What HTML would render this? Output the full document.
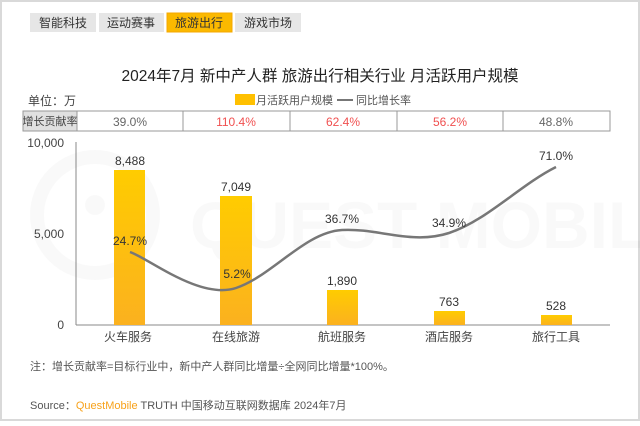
<!DOCTYPE html>
<html><head><meta charset="utf-8"><style>
body{margin:0;width:640px;height:421px;background:#fff;overflow:hidden;font-family:"Liberation Sans","Noto Sans CJK SC",sans-serif}
</style></head><body>
<svg width="640" height="421" xmlns="http://www.w3.org/2000/svg" font-family="Liberation Sans, Noto Sans CJK SC, sans-serif">
<defs><linearGradient id="g" x1="0" y1="0" x2="0" y2="1"><stop offset="0" stop-color="#ffcc00"/><stop offset="1" stop-color="#fbb11f"/></linearGradient></defs>
<rect x="1" y="1" width="638" height="419" fill="#fff" stroke="#d9d9d9" stroke-width="2"/>
<g opacity="0.025" fill="none" stroke="#000" stroke-width="14"><circle cx="95" cy="215" r="58"/></g>
<circle cx="95" cy="205" r="10" fill="#000" opacity="0.025"/>
<text x="190" y="248" font-size="66" fill="#000" opacity="0.02" font-weight="bold">QUEST MOBILE</text>
<g font-size="12" fill="#333" text-anchor="middle">
<rect x="30" y="13" width="66" height="19" fill="#e6e6e6"/><text x="63" y="27">智能科技</text>
<rect x="99" y="13" width="65" height="19" fill="#e6e6e6"/><text x="131" y="27">运动赛事</text>
<rect x="167" y="13" width="65" height="19" fill="#fbb900" stroke="#f5a800"/><text x="199" y="27">旅游出行</text>
<rect x="235" y="13" width="66" height="19" fill="#e6e6e6"/><text x="268" y="27">游戏市场</text>
</g>
<text x="320" y="81" font-size="15.5" fill="#222" text-anchor="middle">2024年7月 新中产人群 旅游出行相关行业 月活跃用户规模</text>
<text x="28" y="105" font-size="12" fill="#444">单位：万</text>
<rect x="235" y="94" width="20" height="11" fill="#ffc000"/>
<text x="256" y="104" font-size="11" fill="#555">月活跃用户规模</text>
<line x1="337" y1="100" x2="353" y2="100" stroke="#777" stroke-width="2"/>
<text x="356" y="104" font-size="11" fill="#555">同比增长率</text>
<rect x="23" y="111" width="54" height="20" fill="#e0e0e0" stroke="#999"/>
<rect x="77" y="111" width="533" height="20" fill="#fff" stroke="#999"/>
<g stroke="#999"><line x1="183" y1="111" x2="183" y2="131"/><line x1="290" y1="111" x2="290" y2="131"/><line x1="397" y1="111" x2="397" y2="131"/><line x1="503" y1="111" x2="503" y2="131"/></g>
<text x="50" y="125" font-size="11" fill="#444" text-anchor="middle">增长贡献率</text>
<g font-size="12" text-anchor="middle">
<text x="130" y="126" fill="#666">39.0%</text>
<text x="236" y="126" fill="#f05050">110.4%</text>
<text x="343" y="126" fill="#f05050">62.4%</text>
<text x="450" y="126" fill="#f05050">56.2%</text>
<text x="556" y="126" fill="#666">48.8%</text>
</g>
<line x1="76" y1="142" x2="76" y2="325" stroke="#888"/>
<line x1="76" y1="325" x2="610" y2="325" stroke="#888"/>
<g font-size="12" fill="#444" text-anchor="end">
<text x="64" y="147">10,000</text><text x="64" y="238">5,000</text><text x="64" y="329">0</text>
</g>
<g fill="url(#g)">
<rect x="114" y="170" width="31" height="155"/>
<rect x="220" y="196" width="32" height="129"/>
<rect x="327" y="290" width="31" height="35"/>
<rect x="434" y="311" width="31" height="14"/>
<rect x="541" y="315" width="31" height="10"/>
</g>
<g font-size="12" fill="#333" text-anchor="middle">
<text x="130" y="165">8,488</text><text x="236" y="191">7,049</text><text x="342" y="285">1,890</text><text x="449" y="306">763</text><text x="556" y="310">528</text>
</g>
<path d="M130,252 C148,258 200,300 236,288 C272,276 305,232 342,230 C378,228 412,245 449,233 C486,221 520,185 556,167" fill="none" stroke="#777" stroke-width="2.5"/>
<g font-size="12" fill="#333" text-anchor="middle">
<text x="130" y="245">24.7%</text><text x="237" y="278">5.2%</text><text x="342" y="223">36.7%</text><text x="449" y="227">34.9%</text><text x="556" y="160">71.0%</text>
</g>
<g font-size="12" fill="#444" text-anchor="middle">
<text x="128" y="341">火车服务</text><text x="236" y="341">在线旅游</text><text x="342" y="341">航班服务</text><text x="449" y="341">酒店服务</text><text x="556" y="341">旅行工具</text>
</g>
<text x="30" y="370" font-size="11" fill="#555">注：增长贡献率=目标行业中，新中产人群同比增量÷全网同比增量*100%。</text>
<text x="30" y="409" font-size="11" fill="#555">Source：<tspan fill="#f7a21b">QuestMobile</tspan> TRUTH 中国移动互联网数据库 2024年7月</text>
</svg>
</body></html>
